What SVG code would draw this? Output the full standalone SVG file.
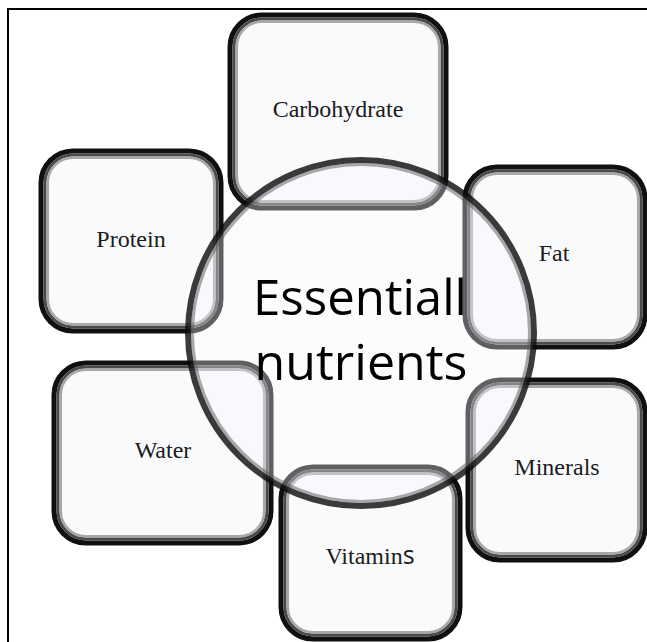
<svg xmlns="http://www.w3.org/2000/svg" width="647" height="642" viewBox="0 0 647 642">
  <defs>
    <style>
      .box-outer { fill: #f8f9fc; fill-opacity: 0.85; stroke: #101010; stroke-width: 5; }
      .box-mid { fill: none; stroke: #4a4a4a; stroke-width: 3; }
      .box-in { fill: none; stroke: #a8a8a8; stroke-width: 2.5; }
      .lbl { font-family: "Liberation Serif", "Times New Roman", serif; font-size: 24px; fill: #1a1a1a; text-anchor: middle; }
      .big { font-family: "Open Sans", "Liberation Sans", sans-serif; font-size: 49px; fill: #000; text-anchor: middle; }
      .frame { stroke: #000; stroke-width: 2; fill: none; }
    </style>
  </defs>
  <rect x="0" y="0" width="647" height="642" fill="#ffffff"/>
  <path class="frame" d="M8,650 L8,9 L650,9"/>

  <g id="carbohydrate">
    <rect class="box-outer" x="230" y="15" width="216" height="193" rx="32"/>
    <rect class="box-mid" x="234" y="19" width="208" height="185" rx="28"/>
    <rect class="box-in" x="236.8" y="21.8" width="202.4" height="179.4" rx="25"/>
    <text class="lbl" x="338" y="117">Carbohydrate</text>
  </g>
  <g id="protein">
    <rect class="box-outer" x="41" y="151" width="180" height="180" rx="32"/>
    <rect class="box-mid" x="45" y="155" width="172" height="172" rx="28"/>
    <rect class="box-in" x="47.8" y="157.8" width="166.4" height="166.4" rx="25"/>
    <text class="lbl" x="131" y="247">Protein</text>
  </g>
  <g id="fat">
    <rect class="box-outer" x="465" y="167" width="180" height="180" rx="32"/>
    <rect class="box-mid" x="469" y="171" width="172" height="172" rx="28"/>
    <rect class="box-in" x="471.8" y="173.8" width="166.4" height="166.4" rx="25"/>
    <text class="lbl" x="554" y="261">Fat</text>
  </g>
  <g id="minerals">
    <rect class="box-outer" x="468" y="380" width="177" height="180" rx="32"/>
    <rect class="box-mid" x="472" y="384" width="169" height="172" rx="28"/>
    <rect class="box-in" x="474.8" y="386.8" width="163.4" height="166.4" rx="25"/>
    <text class="lbl" x="557" y="475">Minerals</text>
  </g>
  <g id="water">
    <rect class="box-outer" x="54" y="363" width="217" height="180" rx="32"/>
    <rect class="box-mid" x="58" y="367" width="209" height="172" rx="28"/>
    <rect class="box-in" x="60.8" y="369.8" width="203.4" height="166.4" rx="25"/>
    <text class="lbl" x="163" y="458">Water</text>
  </g>
  <g id="vitamins">
    <rect class="box-outer" x="281" y="467" width="179" height="172" rx="32"/>
    <rect class="box-mid" x="285" y="471" width="171" height="164" rx="28"/>
    <rect class="box-in" x="287.8" y="473.8" width="165.4" height="158.4" rx="25"/>
    <text class="lbl" x="370" y="564">Vitamin<tspan font-family="Open Sans, Liberation Sans, sans-serif" font-size="25px">s</tspan></text>
  </g>

  <g id="essential-nutrients">
    <circle cx="361" cy="333" r="173" fill="#f4f6fb" fill-opacity="0.35" stroke="#0a0a0a" stroke-opacity="0.8" stroke-width="6"/>
    <circle cx="361" cy="333" r="168.5" fill="none" stroke="#555" stroke-opacity="0.5" stroke-width="3"/>
    <text class="big" x="360" y="315" textLength="214" lengthAdjust="spacingAndGlyphs">Essentiall</text>
    <text class="big" x="361" y="380" textLength="213" lengthAdjust="spacingAndGlyphs">nutrients</text>
  </g>

  <g id="connectors"></g>
</svg>
